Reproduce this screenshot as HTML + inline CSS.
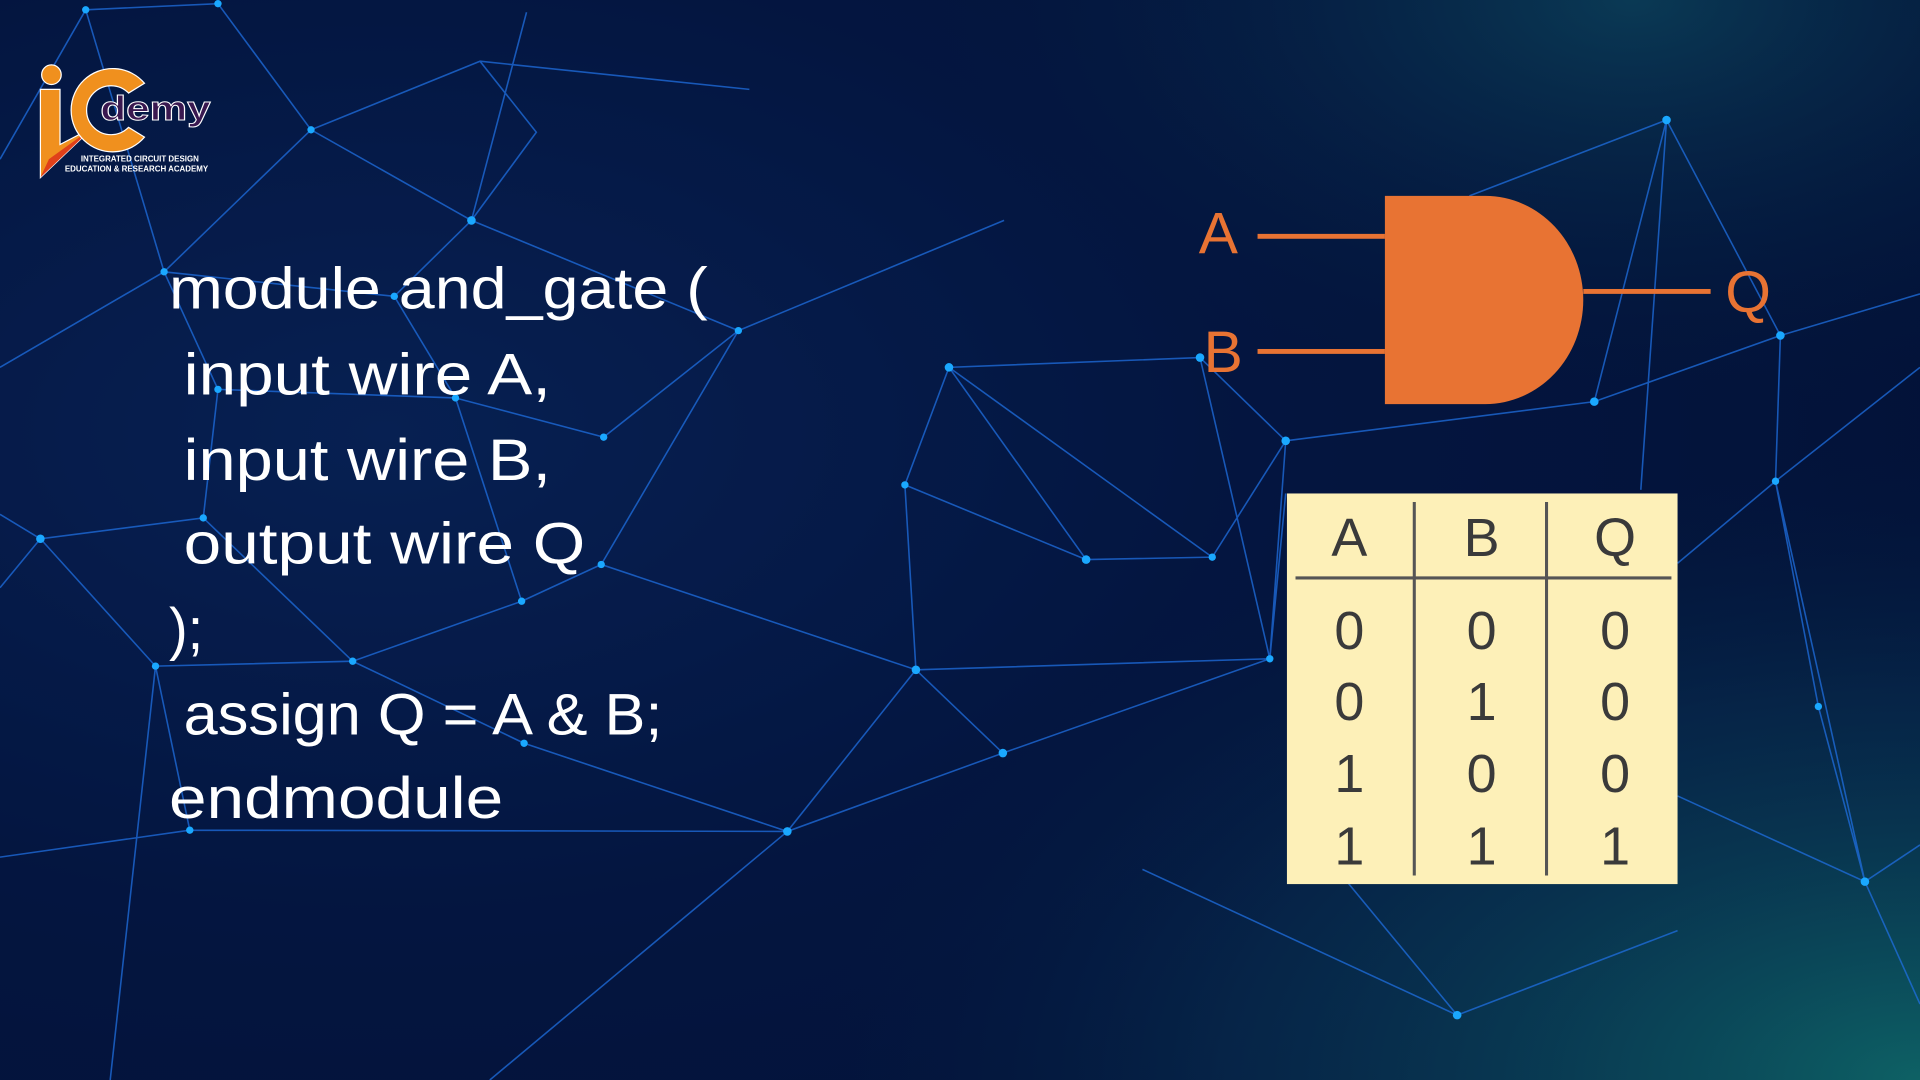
<!DOCTYPE html>
<html><head><meta charset="utf-8"><style>
html,body{margin:0;padding:0;width:1920px;height:1080px;overflow:hidden;background:#041640}
svg{display:block}
</style></head><body>
<svg width="1920" height="1080" viewBox="0 0 1568 882" preserveAspectRatio="none">
<defs>
<radialGradient id="bg" cx="0.2" cy="0.4" r="1">
<stop offset="0" stop-color="#0a2a66"/><stop offset="0.45" stop-color="#051a4a"/><stop offset="1" stop-color="#03133a"/>
</radialGradient>
<radialGradient id="teal" cx="1" cy="1" r="0.6">
<stop offset="0" stop-color="#0f6a6a" stop-opacity="0.9"/><stop offset="0.6" stop-color="#0a3d5a" stop-opacity="0.4"/><stop offset="1" stop-color="#03133a" stop-opacity="0"/>
</radialGradient>
<radialGradient id="teal2" cx="0.85" cy="0" r="0.4">
<stop offset="0" stop-color="#0d4a60" stop-opacity="0.7"/><stop offset="1" stop-color="#03133a" stop-opacity="0"/>
</radialGradient>
</defs>
<rect width="1568" height="882" fill="url(#bg)"/>
<rect width="1568" height="882" fill="#020e2e" opacity="0.35"/>
<rect width="1568" height="882" fill="url(#teal)"/>
<rect width="1568" height="882" fill="url(#teal2)"/>
<g stroke="#1f6fe0" stroke-width="1.3" opacity="0.75" fill="none">
<path d="M70 8L178 3L254 106L385 180L322 242L134 222L70 8M0 130L70 8M254 106L134 222M254 106L392 50L438 108L385 180M392 50L612 73M385 180L603 270L493 357L372 325L322 242M603 270L491 461L426 491L372 325L178 318L134 222M178 318L166 423L33 440L0 420M166 423L288 540L127 544L33 440M288 540L426 491L491 461L748 547L643 679L428 607L288 540M127 544L155 678L0 700M127 544L90 882M155 678L643 679L819 615L748 547M643 679L400 882M748 547L739 396L775 300L980 292L1050 360L1037 538L748 547M775 300L887 457L990 455L1050 360M739 396L887 457M775 300L990 455M980 292L1037 538M1050 360L1302 328L1454 274L1568 240M1302 328L1361 98L1454 274L1450 393L1568 300M1361 98L1200 160M1361 98L1340 400M1450 393L1485 577L1523 720L1568 690M1370 650L1523 720L1450 393M1190 829L1100 720M1190 829L1370 760M819 615L1037 538M1037 538L1050 403M33 440L0 480M603 270L820 180M1450 393L1370 460M1523 720L1568 820M933 710L1190 829M0 300L134 222M385 180L430 10"/>
</g>
<g fill="#1aa8ff">
<circle cx="70" cy="8" r="3"/><circle cx="178" cy="3" r="3"/><circle cx="254" cy="106" r="3"/><circle cx="385" cy="180" r="3.5"/><circle cx="134" cy="222" r="3"/><circle cx="322" cy="242" r="3"/><circle cx="603" cy="270" r="3"/><circle cx="493" cy="357" r="3"/><circle cx="372" cy="325" r="3"/><circle cx="178" cy="318" r="3"/><circle cx="166" cy="423" r="3"/><circle cx="33" cy="440" r="3.5"/><circle cx="491" cy="461" r="3"/><circle cx="426" cy="491" r="3"/><circle cx="127" cy="544" r="3"/><circle cx="288" cy="540" r="3"/><circle cx="428" cy="607" r="3"/><circle cx="155" cy="678" r="3"/><circle cx="643" cy="679" r="3.5"/><circle cx="748" cy="547" r="3.5"/><circle cx="819" cy="615" r="3.5"/><circle cx="739" cy="396" r="3"/><circle cx="775" cy="300" r="3.5"/><circle cx="887" cy="457" r="3.5"/><circle cx="990" cy="455" r="3"/><circle cx="980" cy="292" r="3.5"/><circle cx="1050" cy="360" r="3.5"/><circle cx="1037" cy="538" r="3"/><circle cx="1302" cy="328" r="3.5"/><circle cx="1361" cy="98" r="3.5"/><circle cx="1454" cy="274" r="3.5"/><circle cx="1450" cy="393" r="3"/><circle cx="1485" cy="577" r="3"/><circle cx="1523" cy="720" r="3.5"/><circle cx="1190" cy="829" r="3.5"/>
</g>
<!-- logo -->
<g>
<circle cx="42" cy="61" r="8" fill="#f0901e" stroke="#fff" stroke-width="1"/>
<path d="M33 73L49 73L49 118L76 104L33 145Z" fill="#f0901e" stroke="#fff" stroke-width="1"/>
<path d="M76 104L33 145L40 130Z" fill="#e0401a"/>
<path d="M118 68A34 34 0 1 0 118 112L105 104A20 20 0 1 1 105 76Z" fill="#f0901e" stroke="#fff" stroke-width="1"/>
<text x="82" y="98" font-family="Liberation Sans, sans-serif" font-weight="bold" font-size="28" fill="#3a1850" stroke="#fff" stroke-width="0.8" textLength="90" lengthAdjust="spacingAndGlyphs">demy</text>
<text x="66" y="132" font-family="Liberation Sans, sans-serif" font-weight="bold" font-size="6.5" fill="#fff">INTEGRATED CIRCUIT DESIGN</text>
<text x="53" y="140" font-family="Liberation Sans, sans-serif" font-weight="bold" font-size="6.5" fill="#fff">EDUCATION &amp; RESEARCH ACADEMY</text>
</g>
<!-- code -->
<g font-family="Liberation Sans, sans-serif" font-size="48" fill="#fff" lengthAdjust="spacingAndGlyphs">
<text x="138" y="252" textLength="440" lengthAdjust="spacingAndGlyphs">module and_gate (</text>
<text x="150" y="322" textLength="300" lengthAdjust="spacingAndGlyphs">input wire A,</text>
<text x="150" y="392" textLength="300" lengthAdjust="spacingAndGlyphs">input wire B,</text>
<text x="150" y="460" textLength="328" lengthAdjust="spacingAndGlyphs">output wire Q</text>
<text x="138" y="530" textLength="28" lengthAdjust="spacingAndGlyphs">);</text>
<text x="150" y="600" textLength="391" lengthAdjust="spacingAndGlyphs">assign Q = A &amp; B;</text>
<text x="138" y="668" textLength="273" lengthAdjust="spacingAndGlyphs">endmodule</text>
</g>
<!-- gate -->
<g fill="#e87333">
<path d="M1131 160H1213A80 85 0 0 1 1213 330H1131Z"/>
<rect x="1027" y="191" width="104" height="4"/>
<rect x="1027" y="285" width="104" height="4"/>
<rect x="1293" y="236" width="104" height="4"/>
<g font-family="Liberation Sans, sans-serif" font-size="48">
<text x="979" y="207">A</text>
<text x="983" y="304">B</text>
<text x="1409" y="255">Q</text>
</g>
</g>
<!-- table -->
<rect x="1051" y="403" width="319" height="319" fill="#fdf0b8"/>
<g stroke="#555" stroke-width="2.5">
<line x1="1058" y1="472" x2="1365" y2="472"/>
<line x1="1155" y1="410" x2="1155" y2="715"/>
<line x1="1263" y1="410" x2="1263" y2="715"/>
</g>
<g font-family="Liberation Sans, sans-serif" font-size="44" fill="#3a3a3a" text-anchor="middle">
<text x="1102" y="454">A</text><text x="1210" y="454">B</text><text x="1319" y="454">Q</text>
<text x="1102" y="530">0</text><text x="1210" y="530">0</text><text x="1319" y="530">0</text>
<text x="1102" y="588">0</text><text x="1210" y="588">1</text><text x="1319" y="588">0</text>
<text x="1102" y="647">1</text><text x="1210" y="647">0</text><text x="1319" y="647">0</text>
<text x="1102" y="706">1</text><text x="1210" y="706">1</text><text x="1319" y="706">1</text>
</g>
</svg>
</body></html>
